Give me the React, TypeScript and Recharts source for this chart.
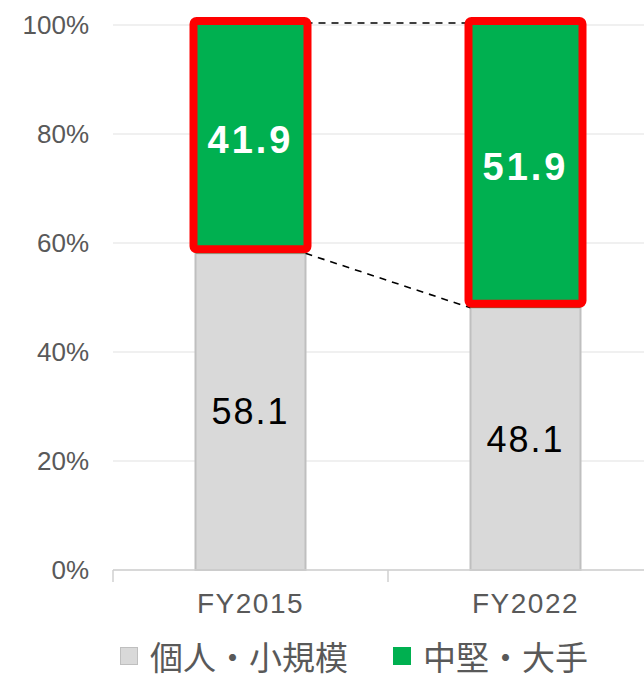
import React from 'react'
import { BarChart, Bar, XAxis, YAxis, CartesianGrid, LabelList } from 'recharts'

const categories = ['FY2015', 'FY2022']
const smallShare = [58.1, 48.1]
const largeShare = [41.9, 51.9]
const seriesNames = ['個人・小規模', '中堅・大手']
const yTicks = [0, 20, 40, 60, 80, 100]

const GRAY = '#d9d9d9'
const GREEN = '#00b050'
const RED = '#ff0000'
const TEXT = '#595959'
const GAP = 0.3

const data = categories.map((name, i) => ({ name, small: smallShare[i], large: largeShare[i] }))

const YTick = (props: any) => {
  const { x, y, payload } = props
  return (
    <text x={x} y={y} dy="0.36em" textAnchor="end" fill={TEXT} fontSize={26} fontFamily="'Liberation Sans', Arial, sans-serif">
      {payload.value}%
    </text>
  )
}

const XTick = (props: any) => {
  const { x, y, payload } = props
  const off = payload.offset ?? 0
  return (
    <g>
      <line x1={x - off} x2={x - off} y1={y} y2={y + 12} stroke="#d0d0d0" strokeWidth={1.5} />
      <text x={x} y={y + 43} textAnchor="middle" fill={TEXT} fontSize={28} letterSpacing={1.5} fontFamily="'Liberation Sans', Arial, sans-serif">
        {payload.value}
      </text>
    </g>
  )
}

const LargeShape = (props: any) => {
  const { x, y, width, height, index } = props
  const perUnit = height / largeShare[index]
  const next = index + 1
  let links = null
  if (next < categories.length) {
    const nextX = x + width / (1 - 2 * GAP)
    const nextBoundary = y + (100 - smallShare[next]) * perUnit
    links = (
      <g stroke="#000" strokeWidth={1.6} strokeDasharray="7 6">
        <line x1={x + width} y1={y - 2} x2={nextX} y2={y - 2} />
        <line x1={x + width} y1={y + height} x2={nextX} y2={nextBoundary} />
      </g>
    )
  }
  return (
    <g>
      {links}
      <rect x={x} y={y} width={width} height={height} fill={GREEN} />
      <rect x={x - 2} y={y - 4} width={width + 4} height={height} fill="none" stroke={RED} strokeWidth={8} rx={3} />
    </g>
  )
}

export default function App() {
  return (
    <div style={{ position: 'absolute', left: 0, top: 0, width: 644, height: 680, overflow: 'hidden', background: '#fff' }}>
      <BarChart width={670} height={680} data={data} barCategoryGap={`${GAP * 100}%`} margin={{ top: 25, right: 7, left: 0, bottom: 0 }}>
        <CartesianGrid vertical={false} stroke="#ebebeb" strokeWidth={1.5} />
        <YAxis domain={[0, 100]} ticks={yTicks} width={113} axisLine={false} tickLine={false} tickSize={0} tickMargin={24} tick={<YTick />} />
        <XAxis dataKey="name" height={110} axisLine={{ stroke: '#d0d0d0', strokeWidth: 1.5 }} tickLine={false} tickSize={0} tickMargin={0} tick={<XTick />} interval={0} />
        <Bar dataKey="small" name={seriesNames[0]} stackId="a" fill={GRAY} stroke="#bfbfbf" strokeWidth={2} isAnimationActive={false}>
          <LabelList dataKey="small" position="center" fill="#000" fontSize={36} letterSpacing={2} fontFamily="'Liberation Sans', Arial, sans-serif" />
        </Bar>
        <Bar dataKey="large" name={seriesNames[1]} stackId="a" fill={GREEN} shape={<LargeShape />} isAnimationActive={false}>
          <LabelList dataKey="large" position="center" fill="#fff" fontSize={38} fontWeight="bold" letterSpacing={3} fontFamily="'Liberation Sans', Arial, sans-serif" />
        </Bar>
      </BarChart>
      <div style={{ position: 'absolute', left: 120, top: 639, display: 'flex', alignItems: 'center', fontFamily: "'Noto Sans CJK JP', sans-serif", fontSize: 33, color: TEXT, lineHeight: '34px', height: 34 }}>
        {seriesNames.map((n, i) => (
          <div key={n} style={{ display: 'flex', alignItems: 'center', marginRight: i === 0 ? 45 : 0 }}>
            <span style={{ width: 18, height: 18, background: i === 0 ? GRAY : GREEN, border: i === 0 ? '1px solid #bfbfbf' : 'none', boxSizing: 'border-box', marginRight: 12 }} />
            <span>{n}</span>
          </div>
        ))}
      </div>
    </div>
  )
}
